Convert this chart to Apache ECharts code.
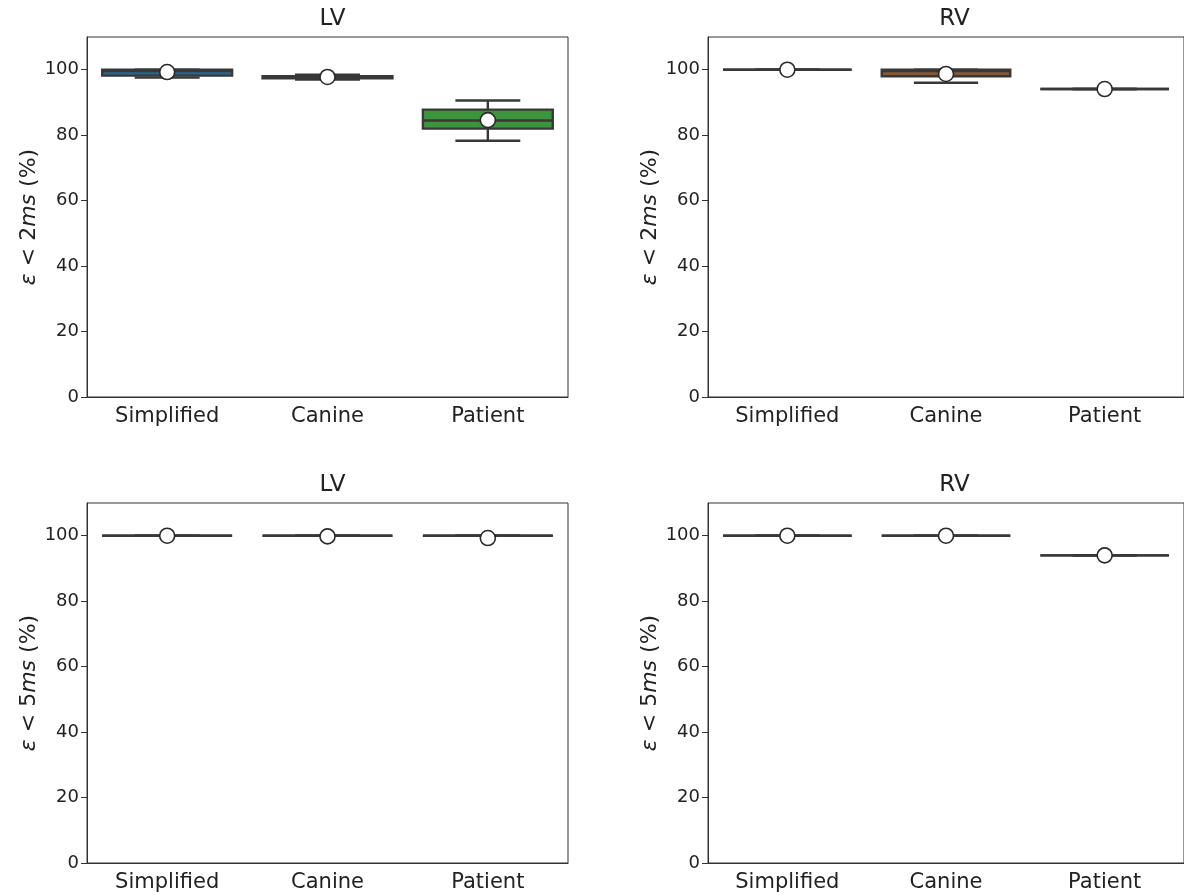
<!DOCTYPE html>
<html>
<head>
<meta charset="utf-8">
<script src="https://cdn.jsdelivr.net/npm/echarts@6/dist/echarts.min.js"></script>
<style>
body { margin: 0; background: #fff; }
#chart { width: 1184px; height: 896px; }
</style>
</head>
<body>
<div id="chart"></div>
<script>
// categories on every panel
var categories = ['Simplified', 'Canine', 'Patient'];

// box stats per category: [min, q1, median, q3, max]
var lv2Box = [[97.6, 98.2, 99.6, 100, 100], [97.0, 97.4, 97.7, 98.0, 98.5], [78.3, 82.0, 84.5, 87.8, 90.6]];
var lv2Mean = [99.3, 97.8, 84.6];
var rv2Box = [[100, 100, 100, 100, 100], [96.0, 98.0, 99.6, 100, 100], [94.1, 94.1, 94.1, 94.1, 94.1]];
var rv2Mean = [100, 98.7, 94.1];
var lv5Box = [[100, 100, 100, 100, 100], [100, 100, 100, 100, 100], [100, 100, 100, 100, 100]];
var lv5Mean = [100, 99.8, 99.3];
var rv5Box = [[100, 100, 100, 100, 100], [100, 100, 100, 100, 100], [94.0, 94.0, 94.0, 94.0, 94.0]];
var rv5Mean = [100, 100, 94.0];

var yTicks = [0, 20, 40, 60, 80, 100];

// box fill colours (styles, kept apart from data)
var lvColors = ['#2d6688', '#4a3c30', '#3a963a'];
var rvColors = ['#2d6688', '#875733', '#3a963a'];
var edge = '#383838';
var textColor = '#222';

function boxRows(box) {
    return box.map(function (b, i) { return [i].concat(b); });
}

function makeRender(colors) {
    return function (params, api) {
        var x = api.value(0);
        var pMin = api.coord([x, api.value(1)]);
        var pQ1 = api.coord([x, api.value(2)]);
        var pMed = api.coord([x, api.value(3)]);
        var pQ3 = api.coord([x, api.value(4)]);
        var pMax = api.coord([x, api.value(5)]);
        var band = api.size([1, 0])[0];
        var half = band * 0.405;
        var cap = half / 2;
        var cx = pMed[0];
        var ls = { stroke: edge, lineWidth: 2.4 };
        return {
            type: 'group',
            children: [
                { type: 'line', shape: { x1: cx, y1: pQ1[1], x2: cx, y2: pMin[1] }, style: ls },
                { type: 'line', shape: { x1: cx, y1: pQ3[1], x2: cx, y2: pMax[1] }, style: ls },
                { type: 'line', shape: { x1: cx - cap, y1: pMin[1], x2: cx + cap, y2: pMin[1] }, style: ls },
                { type: 'line', shape: { x1: cx - cap, y1: pMax[1], x2: cx + cap, y2: pMax[1] }, style: ls },
                { type: 'rect', shape: { x: cx - half, y: pQ3[1], width: half * 2, height: pQ1[1] - pQ3[1] },
                  style: { fill: colors[params.dataIndex], stroke: edge, lineWidth: 2.4 } },
                { type: 'line', shape: { x1: cx - half, y1: pMed[1], x2: cx + half, y2: pMed[1] }, style: ls }
            ]
        };
    };
}

var grids = [
    { left: 87, top: 37, width: 481, height: 360 },
    { left: 708, top: 37, width: 483, height: 360 },
    { left: 87, top: 503, width: 481, height: 360 },
    { left: 708, top: 503, width: 483, height: 360 }
];
var panels = [
    { title: 'LV', box: lv2Box, mean: lv2Mean, colors: lvColors, ms: '2' },
    { title: 'RV', box: rv2Box, mean: rv2Mean, colors: rvColors, ms: '2' },
    { title: 'LV', box: lv5Box, mean: lv5Mean, colors: lvColors, ms: '5' },
    { title: 'RV', box: rv5Box, mean: rv5Mean, colors: rvColors, ms: '5' }
];

var option = {
    animation: false,
    backgroundColor: '#fff',
    title: [],
    grid: [],
    xAxis: [],
    yAxis: [],
    series: []
};

panels.forEach(function (p, i) {
    var g = grids[i];
    option.grid.push({ left: g.left, top: g.top, width: g.width, height: g.height,
        show: true, borderColor: '#333', borderWidth: 1, backgroundColor: '#fff' });
    option.title.push({
        text: p.title,
        left: g.left + g.width / 2,
        top: g.top - 34,
        textAlign: 'center',
        textStyle: { fontFamily: 'DejaVu Sans', fontSize: 23, fontWeight: 'normal', color: textColor }
    });
    option.xAxis.push({
        type: 'category',
        gridIndex: i,
        data: categories,
        axisLine: { lineStyle: { color: '#333', width: 1 } },
        axisTick: { alignWithLabel: true, length: 6, lineStyle: { color: '#333' } },
        axisLabel: { fontFamily: 'DejaVu Sans', fontSize: 21, color: textColor, margin: 9 }
    });
    option.yAxis.push({
        type: 'value',
        gridIndex: i,
        min: 0,
        max: 110,
        interval: 20,
        splitLine: { show: false },
        axisLine: { show: true, lineStyle: { color: '#333', width: 1 } },
        axisTick: { show: true, length: 6, customValues: yTicks, lineStyle: { color: '#333' } },
        axisLabel: {
            fontFamily: 'DejaVu Sans', fontSize: 18, color: textColor, margin: 8,
            customValues: yTicks
        },
        name: '{i|ε} < ' + p.ms + '{i|ms} (%)',
        nameLocation: 'middle',
        nameRotate: 90,
        nameGap: 46,
        nameTextStyle: {
            fontFamily: 'DejaVu Sans', fontSize: 22, color: textColor,
            rich: { i: { fontFamily: 'DejaVu Sans', fontStyle: 'italic', fontSize: 22, color: textColor } }
        }
    });
    option.series.push({
        type: 'custom',
        xAxisIndex: i,
        yAxisIndex: i,
        renderItem: makeRender(p.colors),
        encode: { x: 0, y: [1, 2, 3, 4, 5] },
        data: boxRows(p.box),
        z: 2
    });
    option.series.push({
        type: 'scatter',
        xAxisIndex: i,
        yAxisIndex: i,
        symbol: 'circle',
        symbolSize: 15,
        itemStyle: { color: '#fff', borderColor: '#2a2a2a', borderWidth: 1.6, opacity: 1 },
        data: p.mean.map(function (m, k) { return [k, m]; }),
        z: 5
    });
});

echarts.init(document.getElementById('chart')).setOption(option);
</script>
</body>
</html>
